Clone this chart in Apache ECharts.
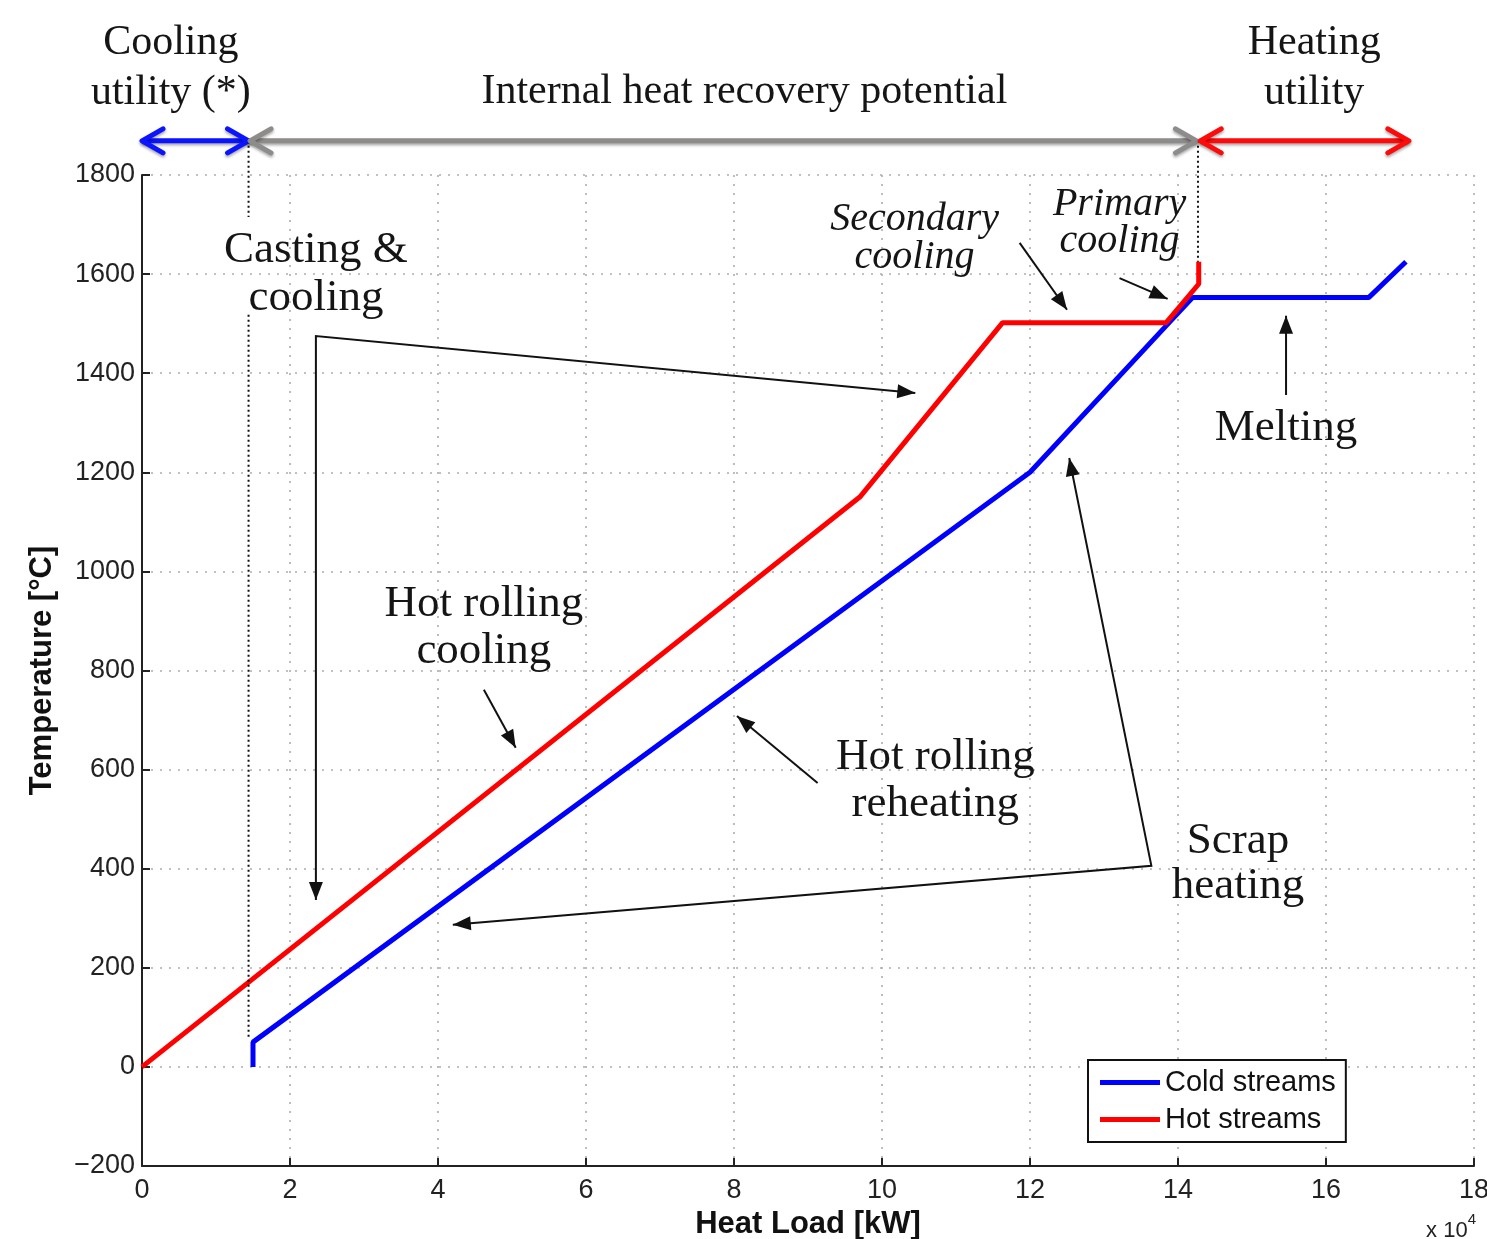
<!DOCTYPE html>
<html><head><meta charset="utf-8">
<script src="https://cdn.jsdelivr.net/npm/echarts@6/dist/echarts.min.js"></script>
<style>html,body{margin:0;padding:0;background:#fff;overflow:hidden}#c{width:1487px;height:1239px}</style>
</head><body><div id="c"></div>
<script>
// ---- data (heat load in 1e4 kW, temperature in °C) ----
const hotX  = [0, 9.7, 11.63, 13.84, 14.28, 14.28];
const hotY  = [0, 1150, 1502, 1502, 1580, 1625];
const coldX = [1.5, 1.5, 12.0, 13.88, 14.2, 16.58, 17.08];
const coldY = [0, 50, 1200, 1502, 1553, 1553, 1625];
const xTicks = [0, 2, 4, 6, 8, 10, 12, 14, 16, 18];
const yTicks = [-200, 0, 200, 400, 600, 800, 1000, 1200, 1400, 1600, 1800];
const seriesNames = ['Cold streams', 'Hot streams'];
// utility boundaries (1e4 kW)
const coolingUtility = [0, 1.44];
const recoveryRange  = [1.46, 14.25];
const heatingUtility = [14.3, 17.12];

const chart = echarts.init(document.getElementById('c'), null, {renderer: 'canvas', width: 1487, height: 1239});
const axisFont = 'Liberation Sans, Arial, sans-serif';
const serif = 'Liberation Serif, Times New Roman, serif';

chart.setOption({
  animation: false,
  backgroundColor: '#fff',
  grid: {left: 142, top: 175, width: 1332, height: 991, containLabel: false, outerBoundsMode: 'none'},
  xAxis: {
    type: 'value', min: xTicks[0], max: xTicks[xTicks.length - 1], interval: 2,
    name: 'Heat Load [kW]', nameLocation: 'middle', nameGap: 38,
    nameTextStyle: {fontFamily: axisFont, fontWeight: 'bold', fontSize: 31, color: '#111'},
    axisLine: {onZero: false, lineStyle: {color: '#222', width: 2}},
    axisTick: {inside: true, length: 8, lineStyle: {color: '#222', width: 2}},
    axisLabel: {fontFamily: axisFont, fontSize: 27, color: '#222', margin: 11},
    splitLine: {show: true, lineStyle: {type: [2, 7], color: '#adadad', width: 1.6}}
  },
  yAxis: {
    type: 'value', min: yTicks[0], max: yTicks[yTicks.length - 1], interval: 200,
    name: 'Temperature [°C]', nameLocation: 'middle', nameGap: 84,
    nameTextStyle: {fontFamily: axisFont, fontWeight: 'bold', fontSize: 31, color: '#111'},
    axisLine: {show: true, onZero: false, lineStyle: {color: '#222', width: 2}},
    axisTick: {show: true, inside: true, length: 8, lineStyle: {color: '#222', width: 2}},
    axisLabel: {fontFamily: axisFont, fontSize: 27, color: '#222', margin: 7,
      formatter: v => v < 0 ? '\u2212' + Math.abs(v) : String(v)},
    splitLine: {show: true, lineStyle: {type: [2, 7], color: '#adadad', width: 1.6}}
  },
  legend: {
    left: 1088, top: 1060, orient: 'vertical',
    data: seriesNames,
    icon: 'rect', itemWidth: 60, itemHeight: 5, itemGap: 8,
    padding: [8, 10, 8, 12],
    borderColor: '#111', borderWidth: 2, backgroundColor: '#fff',
    textStyle: {fontFamily: axisFont, fontSize: 29, color: '#111'}
  },
  series: [
    {name: seriesNames[0], type: 'line', showSymbol: false, clip: false, z: 3,
     color: '#0000ff', lineStyle: {width: 5, color: '#0000ff'},
     data: coldX.map((x, i) => [x, coldY[i]])},
    {name: seriesNames[1], type: 'line', showSymbol: false, clip: false, z: 4,
     color: '#ff0000', lineStyle: {width: 5, color: '#ff0000'},
     data: hotX.map((x, i) => [x, hotY[i]])}
  ]
});

const P = (x, y) => chart.convertToPixel({gridIndex: 0}, [x, y]);
const g = [];

function filledHead(tip, from, color) {
  const dx = tip[0] - from[0], dy = tip[1] - from[1];
  const l = Math.hypot(dx, dy), ux = dx / l, uy = dy / l, nx = -uy, ny = ux;
  const L = 18, W = 7;
  g.push({type: 'polygon', z: 20, shape: {points: [
    tip, [tip[0] - L * ux + W * nx, tip[1] - L * uy + W * ny],
    [tip[0] - L * ux - W * nx, tip[1] - L * uy - W * ny]]},
    style: {fill: color}});
}
function blackArrow(ptsData, headsAtStart, headsAtEnd) {
  const pts = ptsData.map(p => P(p[0], p[1]));
  g.push({type: 'polyline', z: 19, shape: {points: pts}, style: {stroke: '#111', lineWidth: 2, fill: null}});
  if (headsAtEnd) filledHead(pts[pts.length - 1], pts[pts.length - 2], '#111');
  if (headsAtStart) filledHead(pts[0], pts[1], '#111');
}
function chevron(tip, from, color, shadow) {
  const dx = tip[0] - from[0], dy = tip[1] - from[1];
  const l = Math.hypot(dx, dy), ux = dx / l, uy = dy / l, nx = -uy, ny = ux;
  const A = 21, B = 12;
  g.push({type: 'polyline', z: 21, shape: {points: [
    [tip[0] - A * ux + B * nx, tip[1] - A * uy + B * ny], tip,
    [tip[0] - A * ux - B * nx, tip[1] - A * uy - B * ny]]},
    style: Object.assign({stroke: color, lineWidth: 5, fill: null, lineCap: 'round', lineJoin: 'round'}, shadow)});
}
function doubleArrow(range, yData, color) {
  const a = P(range[0], yData), b = P(range[1], yData);
  const shadow = {shadowBlur: 3, shadowColor: 'rgba(0,0,0,0.35)', shadowOffsetY: 2};
  g.push({type: 'line', z: 20, shape: {x1: a[0] + 2, y1: a[1], x2: b[0] - 2, y2: b[1]},
    style: Object.assign({stroke: color, lineWidth: 5, lineCap: 'round'}, shadow)});
  chevron(a, b, color, shadow);
  chevron(b, a, color, shadow);
}
function dotted(xData, y0, y1) {
  const a = P(xData, y0), b = P(xData, y1);
  g.push({type: 'line', z: 18, shape: {x1: a[0], y1: a[1], x2: b[0], y2: b[1]},
    style: {stroke: '#111', lineWidth: 2, lineDash: [2, 3]}});
}
function label(text, xData, yData, size, italic, lh) {
  const p = P(xData, yData);
  g.push({type: 'text', z: 22, x: p[0], y: p[1], style: {
    text: text, fontFamily: serif, fontSize: size, fontStyle: italic ? 'italic' : 'normal',
    fill: '#151515', align: 'center', verticalAlign: 'middle', lineHeight: lh || Math.round(size * 1.15)}});
}

// top utility arrows
const topY = 1869;
doubleArrow(coolingUtility, topY, '#0a14ff');
doubleArrow(recoveryRange, topY, '#8e8b8b');
doubleArrow(heatingUtility, topY, '#ff0a0a');
// dotted boundaries
dotted(coolingUtility[1], topY, 1715);
dotted(coolingUtility[1], 1518, 60);
dotted(heatingUtility[0] - 0.03, topY, 1625);

// titles
label('Cooling\nutility (*)', 0.39, 2016, 42, false, 50);
label('Internal heat recovery potential', 8.14, 1967, 42, false, 50);
label('Heating\nutility', 15.84, 2016, 42, false, 50);

// in-plot annotations
label('Casting &\ncooling', 2.35, 1600, 45, false, 48);
label('Hot rolling\ncooling', 4.62, 886, 45, false, 47);
label('Hot rolling\nreheating', 10.72, 577, 45, false, 47);
label('Scrap\nheating', 14.81, 410, 45, false, 45);
label('Melting', 15.46, 1290, 45, false, 45);
label('Secondary\ncooling', 10.44, 1671, 40, true, 38);
label('Primary\ncooling', 13.21, 1703, 40, true, 37);

blackArrow([[2.35, 337], [2.35, 1475], [10.45, 1360]], true, true);
blackArrow([[4.62, 761], [5.05, 644]], false, true);
blackArrow([[9.13, 573], [8.04, 708]], false, true);
blackArrow([[12.53, 1229], [13.64, 406], [4.2, 287]], true, true);
blackArrow([[15.46, 1356], [15.46, 1516]], false, true);
blackArrow([[11.86, 1663], [12.5, 1528]], false, true);
blackArrow([[13.21, 1592], [13.86, 1550]], false, true);

// x 10^4 multiplier
const br = P(18, -200);
g.push({type: 'text', z: 22, x: br[0] + 2, y: br[1] + 46, style: {
  text: '{b|x 10}{s|4}', align: 'right', verticalAlign: 'top',
  rich: {b: {fontFamily: axisFont, fontSize: 22, fill: '#222', padding: [8, 0, 0, 0]},
         s: {fontFamily: axisFont, fontSize: 15, fill: '#222', verticalAlign: 'top'}}}});

chart.setOption({graphic: g});
</script>
</body></html>
